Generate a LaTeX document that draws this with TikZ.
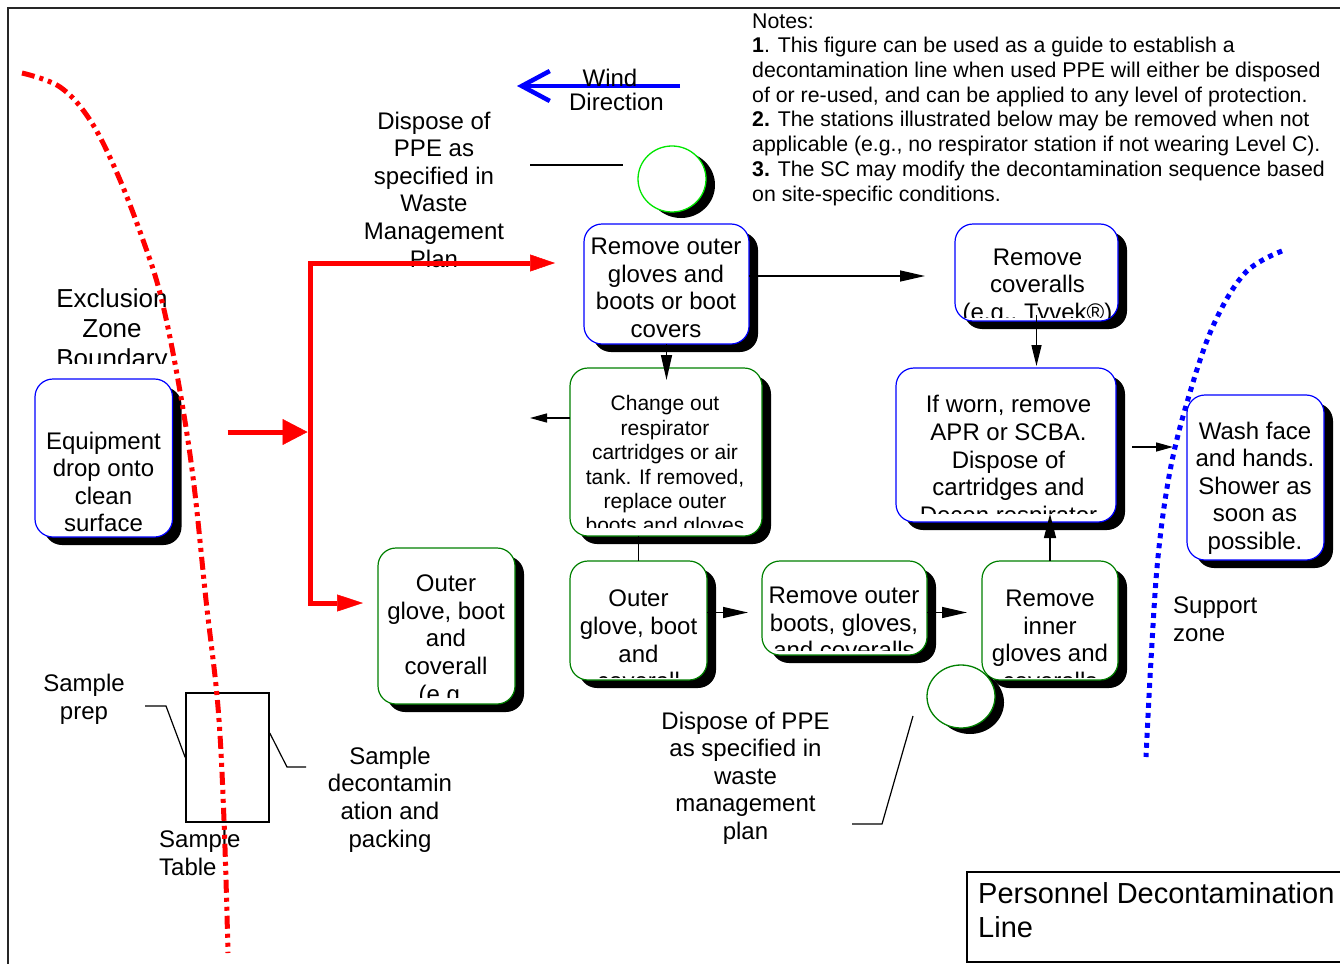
\documentclass[tikz,border=0pt]{standalone}
\usepackage{fontspec}
\setmainfont{Liberation Sans}
\usetikzlibrary{arrows.meta,shapes.geometric,shadows,calc}
\definecolor{bxgreen}{RGB}{0,128,0}
\definecolor{limegr}{RGB}{0,230,0}
\definecolor{bxblue}{RGB}{0,0,255}
\definecolor{zred}{RGB}{255,0,0}
\tikzset{
  stbox/.style={rounded corners=18pt, fill=white, line width=1.2pt, inner sep=0pt, outer sep=0pt,
    drop shadow={shadow xshift=9pt, shadow yshift=-8pt, fill=black, opacity=1}},
  circst/.style={ellipse, fill=white, line width=1.3pt, inner sep=0pt, outer sep=0pt,
    drop shadow={shadow xshift=9pt, shadow yshift=-6pt, fill=black, opacity=1}},
  tx/.style={inner sep=0pt, align=center, font=\fontsize{24}{27.6}\selectfont},
  txs/.style={inner sep=0pt, align=center, font=\fontsize{21}{24.4}\selectfont},
  arr/.style={line width=1.4pt, -{Triangle[length=25pt,width=11pt]}},
  arrsm/.style={line width=1.4pt, -{Triangle[length=17pt,width=9pt]}},
  callout/.style={line width=1.2pt},
  redthick/.style={draw=zred, line width=5pt},
}
\begin{document}
\begin{tikzpicture}[x=1pt,y=-1pt]
\useasboundingbox (0,0) rectangle (1340,963);
\fill[white] (0,0) rectangle (1340,963);
\draw[line width=2pt, black!85] (8,995) -- (8,8) -- (1360,8);

% wind
\coordinate (wS) at (680,86);
\coordinate (wE) at (517,86);
\draw[bxblue, line width=4.5pt, -{Straight Barb[length=28pt,width=30pt]}] (wS) -- (wE);
\node[tx] (wind1) at (610,78) {Wind};
\node[tx] (wind2) at (616.5,102) {Direction};

% notes
\node[inner sep=0pt, align=left, anchor=west, font=\fontsize{21.3}{24.7}\selectfont] (notes) at (752,109.5)
 {Notes:\\\textbf{1}. This figure can be used as a guide to establish a\\decontamination line when used PPE will either be disposed\\of or re-used, and can be applied to any level of protection.\\\textbf{2.} The stations illustrated below may be removed when not\\applicable (e.g., no respirator station if not wearing Level C).\\\textbf{3.} The SC may modify the decontamination sequence based\\on site-specific conditions.};

% boxes
\node[stbox, draw=bxblue, minimum width=165pt, minimum height=120pt] (b1) at (666.5,284) {};
\node[stbox, draw=bxblue, minimum width=163pt, minimum height=97pt] (b2) at (1036.5,272.5) {};
\node[stbox, draw=bxgreen, minimum width=192pt, minimum height=168pt] (b3) at (666,452) {};
\node[stbox, draw=bxblue, minimum width=220pt, minimum height=154pt] (b4) at (1006,445) {};
\node[stbox, draw=bxblue, minimum width=137.5pt, minimum height=158pt] (b5) at (103.75,458) {};
\node[stbox, draw=bxblue, minimum width=137pt, minimum height=165pt] (b6) at (1255.5,477.5) {};
\node[stbox, draw=bxgreen, minimum width=137pt, minimum height=156pt] (b7) at (446.5,626) {};
\node[stbox, draw=bxgreen, minimum width=137pt, minimum height=119pt] (b8) at (638.5,620.5) {};
\node[stbox, draw=bxgreen, minimum width=165pt, minimum height=94pt] (b9) at (844.5,608) {};
\node[stbox, draw=bxgreen, minimum width=136pt, minimum height=119pt] (b10) at (1050,620.5) {};

% box texts
\begin{scope}\clip (584,224) rectangle (749,344);
\node[tx] (t1) at (666,288) {Remove outer\\gloves and\\boots or boot\\covers};\end{scope}
\begin{scope}\clip (955,224) rectangle (1118,317);
\node[tx] (t2) at (1037.5,287) {Remove\\coveralls\\(e.g., Tyvek®)};\end{scope}
\begin{scope}\clip (570,368) rectangle (762,527);
\node[txs] (t3) at (665,466.5) {Change out\\respirator\\cartridges or air\\tank. If removed,\\replace outer\\boots and gloves};\end{scope}
\begin{scope}\clip (896,368) rectangle (1116,513);
\node[tx] (t4) at (1008.5,462) {If worn, remove\\APR or SCBA.\\Dispose of\\cartridges and\\Decon respirator};\end{scope}
\node[tx] (t5) at (103.5,482) {Equipment\\drop onto\\clean\\surface};
\node[tx] (t6) at (1255,488) {Wash face\\and hands.\\Shower as\\soon as\\possible.};
\begin{scope}\clip (378,548) rectangle (515,697);
\node[tx] (t7) at (446,641) {Outer\\glove, boot\\and\\coverall\\(e.g.,};\end{scope}
\begin{scope}\clip (570,561) rectangle (707,677);
\node[tx] (t8) at (638.5,640) {Outer\\glove, boot\\and\\coverall};\end{scope}
\begin{scope}\clip (762,561) rectangle (927,650);
\node[tx] (t9) at (844,623) {Remove outer\\boots, gloves,\\and coveralls};\end{scope}
\begin{scope}\clip (982,561) rectangle (1118,677);
\node[tx] (t10) at (1050,640) {Remove\\inner\\gloves and\\coveralls};\end{scope}

% circles
\node[circst, draw=limegr, minimum width=68pt, minimum height=66pt] (c1) at (672,179) {};
\node[circst, draw=bxgreen, minimum width=68pt, minimum height=63pt] (c2) at (961,696.5) {};

% black connectors
\draw[arr, shorten >=30pt] ([yshift=8pt]b1.east) -- ([yshift=8pt]b1.east -| b2.west);
\draw[arr, shorten >=-12pt] (b1.south) -- (b1.south |- b3.north);
\draw[line width=1.4pt, -{Triangle[length=21pt,width=10pt]}, shorten >=2pt] ([yshift=6pt]b2.south) -- (b2.south |- b4.north);
\coordinate (lt) at (530,418);
\draw[arrsm] ([yshift=34pt]b3.west) -- (lt);
\draw[line width=1.4pt] (b3.south -| b8.north) -- (b8.north);
\draw[arr, shorten >=14pt] ([yshift=8pt]b8.east) -- ([yshift=8pt]b8.east -| b9.west);
\draw[arr, shorten >=15pt] ([yshift=-4.5pt]b9.east) -- ([yshift=-4.5pt]b9.east -| b10.west);
\draw[line width=1.4pt, -{Triangle[length=24pt,width=12pt]}, shorten >=-8pt] (b10.north) -- (b10.north |- b4.south);
\draw[arrsm, shorten <=16pt, shorten >=14pt] ([yshift=-2pt]b4.east) -- ([yshift=-2pt]b4.east -| b6.west);

% labels
\begin{scope}\clip (0,0) rectangle (400,363);
\node[inner sep=0pt, align=center, font=\fontsize{26}{30}\selectfont] (ezb) at (112,331) {Exclusion\\Zone\\Boundary};
\end{scope}
\node[tx] (disp1) at (434,189.5) {Dispose of\\PPE as\\specified in\\Waste\\Management\\Plan};
\node[tx] (disp2) at (745.5,778) {Dispose of PPE\\as specified in\\waste\\management\\plan};
\node[tx] (sprep) at (84,699.5) {Sample\\prep};
\node[tx, align=left, anchor=west] (stab) at (159,853) {Sample\\Table};
\node[tx] (sdec) at (390,799.5) {Sample\\decontamin\\ation and\\packing};
\node[tx, align=left, anchor=west] (sup) at (1173,619.5) {Support\\zone};
\node[draw, line width=1.5pt, minimum width=393pt, minimum height=90pt, inner sep=0pt] (ttlbox) at (1163.5,917) {};
\node[inner sep=0pt, align=left, anchor=west, font=\fontsize{29}{34}\selectfont] (ttl) at (978,910) {Personnel Decontamination\\Line};

% red arrows
\coordinate (rtop) at (310,263);
\coordinate (rmid) at (310,432);
\coordinate (rbot) at (310,603);
\draw[redthick, {Triangle[length=25pt,width=17pt,line width=0.5pt]}-{Triangle[length=26pt,width=17pt,line width=0.5pt]}, shorten <=29pt, shorten >=15pt] (rtop -| b1.west) -- (rtop) -- (rbot) -- (rbot -| b7.west);
\draw[redthick, -{Triangle[length=25pt,width=26pt,line width=0.5pt]}, shorten <=55pt, shorten >=2.5pt] (rmid -| b5.east) -- (rmid);

% sample table and callouts
\node[draw, line width=1.5pt, minimum width=83pt, minimum height=129pt, inner sep=0pt] (tab) at (227.5,757.5) {};
\coordinate (sp1) at (145,706); \coordinate (sp2) at (166,706);
\draw[callout] (sp1) -- (sp2) -- (tab.west);
\coordinate (sd1) at (287,767); \coordinate (sd2) at (306,767);
\draw[callout] ([yshift=24.5pt]tab.east) -- (sd1) -- (sd2);
\coordinate (dp1) at (913,716); \coordinate (dp2) at (882,824); \coordinate (dp3) at (852,824);
\draw[callout] (dp1) -- (dp2) -- (dp3);
\coordinate (tl1) at (530,165); \coordinate (tl2) at (623,165);
\draw[callout] (tl1) -- (tl2);

% zone boundaries
\draw[zred, line width=5pt, dash pattern=on 13pt off 5pt on 4pt off 5pt on 4pt off 5pt]
  plot[smooth, tension=0.6] coordinates {(22,73) (60,87) (90,120) (117,173) (143,240) (161,297) (178,380) (193,477) (206,600) (218,707) (224,820) (228,953)};
\draw[bxblue, line width=5pt, dash pattern=on 5pt off 5pt]
  plot[smooth, tension=0.6] coordinates {(1282,251) (1245,273) (1213,326) (1188,399) (1170,471) (1158,557) (1151,660) (1146,757)};
\end{tikzpicture}
\end{document}
